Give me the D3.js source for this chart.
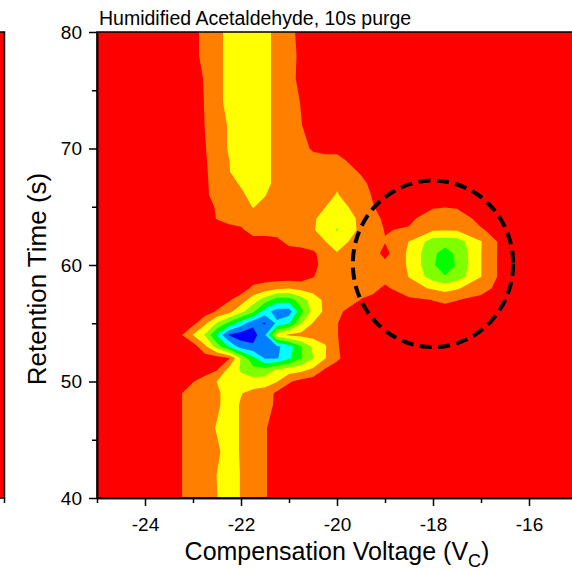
<!DOCTYPE html>
<html>
<head>
<meta charset="utf-8">
<script src="https://cdn.jsdelivr.net/npm/d3@7"></script>
<style>
    body { margin: 0; background: #fff; }
    svg { display: block; }
    text { font-family: "Liberation Sans", Arial, sans-serif; fill: #000; }
</style>
</head>
<body>
<div id="chart"></div>
<script>
// grid columns: compensation voltage (V), rows: retention time (s), top to bottom
const voltages = [-25, -24, -23.5, -23.25, -23, -22.75, -22.5, -22.25, -22, -21.75, -21.5, -21.25, -21, -20.75,
    -20.5, -20.25, -20, -19.75, -19.5, -19.25, -19, -18.5, -18, -17.75, -17.5, -17, -16.5, -16, -15];
const times = [80, 78, 76, 74, 72, 70, 69, 68, 67, 66, 65, 64, 63, 62, 61, 60, 59, 58, 57, 56, 55, 54, 53, 52,
    51, 50, 49, 48, 46, 44, 42, 40];

// intensity level (0 = red ... 7 = dark blue)
const intensity = [
    [0, 0, 0, 0, 0, 1, 1, 2, 2, 2, 2, 1, 1, 0, 0, 0, 0, 0, 0, 0, 0, 0, 0, 0, 0, 0, 0, 0, 0],
    [0, 0, 0, 0, 0, 1, 1, 2, 2, 2, 2, 1, 1, 0.2, 0, 0, 0, 0, 0, 0, 0, 0, 0, 0, 0, 0, 0, 0, 0],
    [0, 0, 0, 0, 0, 0.6, 1, 2, 2, 2, 2, 1, 1, 0.1, 0, 0, 0, 0, 0, 0, 0, 0, 0, 0, 0, 0, 0, 0, 0],
    [0, 0, 0, 0, 0, 0.55, 1, 2, 2, 2, 2, 1, 1, 0.45, 0, 0, 0, 0, 0, 0, 0, 0, 0, 0, 0, 0, 0, 0, 0],
    [0, 0, 0, 0, 0, 0.52, 1, 1.6, 2, 2, 2, 1, 1, 0.55, 0, 0, 0, 0, 0, 0, 0, 0, 0, 0, 0, 0, 0, 0, 0],
    [0, 0, 0, 0, 0, 0.45, 1, 1.6, 2, 2, 2, 1, 1, 1, 0.3, 0, 0, 0, 0, 0, 0, 0, 0, 0, 0, 0, 0, 0, 0],
    [0, 0, 0, 0, 0, 0.4, 1, 1.48, 2, 2, 2, 1, 1, 1, 1, 1, 1, 0.3, 0, 0, 0, 0, 0, 0, 0, 0, 0, 0, 0],
    [0, 0, 0, 0, 0, 0.35, 1, 1.45, 2, 2, 2, 1, 1, 1, 1, 1, 1, 1, 0.3, 0, 0, 0, 0, 0, 0, 0, 0, 0, 0],
    [0, 0, 0, 0, 0, 0.3, 1, 1, 1.67, 2, 2, 1, 1, 1, 1, 1, 1.3, 1, 1, 0, 0, 0, 0, 0, 0, 0, 0, 0, 0],
    [0, 0, 0, 0, 0, 0.25, 1, 1, 1.2, 2, 1.55, 1, 1, 1, 1, 1, 1.6, 1, 1, 0.4, 0, 0, 0, 0, 0, 0, 0, 0, 0],
    [0, 0, 0, 0, 0, 0, 0.65, 1, 1, 1.55, 1.2, 1, 1, 1, 1, 1.45, 2.2, 1.45, 1, 0.55, 0.1, 0, 0.4, 0.45, 0.4, 0, 0, 0, 0],
    [0, 0, 0, 0, 0, 0, 0.55, 1, 1, 1, 1, 1, 1, 1, 1.3, 2, 2.3, 2, 1.1, 1, 0.2, 0.3, 1, 1.2, 1, 0.2, 0, 0, 0],
    [0, 0, 0, 0, 0, 0, 0, 0, 0.3, 1, 1, 1, 1, 1, 1.4, 2, 2.55, 2, 1.2, 1, 0.45, 0.6, 1.4, 1.45, 1.4, 0.6, 0, 0, 0],
    [0, 0, 0, 0, 0, 0, 0, 0, 0, 0, 0, 0.2, 0.8, 1, 1.1, 1.45, 2.2, 1.45, 1, 1, 0.55, 1.52, 3, 3.1, 3, 1.55, 0, 0, 0],
    [0, 0, 0, 0, 0, 0, 0, 0, 0, 0, 0, 0, 0, 0, 0.3, 1, 1.4, 1.2, 1.1, 0.9, 0.2, 1.7, 3.3, 3.9, 3.3, 1.52, 0, 0, 0],
    [0, 0, 0, 0, 0, 0, 0, 0, 0, 0, 0, 0, 0, 0, 0.1, 1, 1.3, 1.2, 1.1, 0.9, 0.8, 1.6, 3.4, 4, 3.4, 1.52, 0, 0, 0],
    [0, 0, 0, 0, 0, 0, 0, 0, 0, 0, 0, 0, 0, 0, 0.45, 1, 1.2, 1.2, 1.1, 1, 0.9, 1.52, 3, 3.45, 3, 1.52, 0, 0, 0],
    [0, 0, 0, 0, 0, 0, 0, 0, 0, 0.7, 1, 1.3, 1.45, 1.2, 1.1, 1, 1, 0.9, 0.9, 0.8, 0.3, 1.2, 1.6, 1.9, 1.6, 0.9, 0, 0, 0],
    [0, 0, 0, 0, 0, 0, 0, 0.4, 1, 2, 3, 4, 4, 3, 2, 1.3, 1.1, 1, 0.45, 0.2, 0, 0.3, 0.52, 0.6, 0.52, 0.2, 0, 0, 0],
    [0, 0, 0, 0, 0, 0, 0.6, 1.2, 2.2, 3.3, 5, 6, 6, 3.8, 2.2, 1.3, 0.8, 0.2, 0, 0, 0, 0, 0.2, 0.3, 0.2, 0, 0, 0, 0],
    [0, 0, 0, 0, 0.2, 1.3, 2.6, 3.8, 5, 6.2, 6.6, 5.3, 4.6, 2.6, 1.45, 1.1, 0.55, 0, 0, 0, 0, 0, 0, 0, 0, 0, 0, 0, 0],
    [0, 0, 0, 0.4, 1.55, 2.6, 4.6, 6.6, 7, 7, 5.6, 2, 1.3, 1.2, 1.1, 1, 0.55, 0, 0, 0, 0, 0, 0, 0, 0, 0, 0, 0, 0],
    [0, 0, 0, 0, 0, 1.3, 3, 4.6, 6, 6.3, 6, 5.7, 5, 3.55, 2.3, 1.6, 0.6, 0, 0, 0, 0, 0, 0, 0, 0, 0, 0, 0, 0],
    [0, 0, 0, 0, 0, 0, 0, 0.4, 2.6, 4.2, 5.6, 5.6, 4.7, 3.55, 2.55, 1.55, 0.7, 0, 0, 0, 0, 0, 0, 0, 0, 0, 0, 0, 0],
    [0, 0, 0, 0, 0, 0, 0.45, 1.8, 2.6, 3.2, 3.1, 2.4, 2, 1.8, 1.3, 0.4, 0, 0, 0, 0, 0, 0, 0, 0, 0, 0, 0, 0, 0],
    [0, 0, 0, 0, 0.45, 1, 1.52, 2, 2.2, 2.1, 2, 1.55, 0.6, 0.2, 0, 0, 0, 0, 0, 0, 0, 0, 0, 0, 0, 0, 0, 0, 0],
    [0, 0, 0, 0.45, 1, 1, 1.3, 2, 1.55, 1.2, 1, 0.3, 0, 0, 0, 0, 0, 0, 0, 0, 0, 0, 0, 0, 0, 0, 0, 0, 0],
    [0, 0, 0, 0.45, 1, 1, 1.3, 2, 1.4, 1, 1, 0.25, 0, 0, 0, 0, 0, 0, 0, 0, 0, 0, 0, 0, 0, 0, 0, 0, 0],
    [0, 0, 0, 0.45, 1, 1, 1.6, 2, 1.4, 1, 0.6, 0, 0, 0, 0, 0, 0, 0, 0, 0, 0, 0, 0, 0, 0, 0, 0, 0, 0],
    [0, 0, 0, 0.45, 1, 1, 1.3, 2, 1.4, 1, 0.6, 0, 0, 0, 0, 0, 0, 0, 0, 0, 0, 0, 0, 0, 0, 0, 0, 0, 0],
    [0, 0, 0, 0.45, 1, 1, 1.52, 2, 1.45, 1, 0.6, 0, 0, 0, 0, 0, 0, 0, 0, 0, 0, 0, 0, 0, 0, 0, 0, 0, 0],
    [0, 0, 0, 0.45, 1, 1, 1.48, 2, 1.45, 1, 0.6, 0, 0, 0, 0, 0, 0, 0, 0, 0, 0, 0, 0, 0, 0, 0, 0, 0, 0]
];

const levels = [0.5, 1.5, 2.5, 3.5, 4.5, 5.5, 6.5];
const baseColor = '#ff0000';
const levelColors = ['#ff8000', '#ffff00', '#80ff00', '#00ff00', '#00ffff', '#0080ff', '#0000ff'];

const xMajor = [-24, -22, -20, -18, -16];
const xMinor = [-25, -23, -21, -19, -17, -15];
const yMajor = [40, 50, 60, 70, 80];
const yMinor = [45, 55, 65, 75];

// dashed ring around the -18 V feature
const ringCenter = [-18, 60.1];
const ringRadius = [1.67, 7.15];

const svgWidth = 572;
const svgHeight = 570;

const svg = d3.select('#chart')
    .append('svg')
    .attr('width', svgWidth)
    .attr('height', svgHeight);

const x = d3.scaleLinear().domain([-25, -15]).range([97, 577]);
const y = d3.scaleLinear().domain([40, 80]).range([498, 32]);

// grid index -> data value (samples sit at index + 0.5 in contour space)
const colToV = d3.scaleLinear().domain(voltages.map((d, i) => i + 0.5)).range(voltages);
const rowToT = d3.scaleLinear().domain(times.map((d, i) => i + 0.5)).range(times);

const toScreen = d3.geoTransform({
    point(px, py) {
        this.stream.point(x(colToV(px)), y(rowToT(py)));
    }
});
const path = d3.geoPath(toScreen);

svg.append('clipPath').attr('id', 'plot-clip')
    .append('rect')
    .attr('x', x(-25)).attr('y', y(80))
    .attr('width', x(-15) - x(-25)).attr('height', y(40) - y(80));

// piece of the neighbouring panel on the left edge
svg.append('rect')
    .attr('x', -5).attr('y', y(80))
    .attr('width', 9.5).attr('height', y(40) - y(80))
    .attr('fill', baseColor)
    .attr('stroke', '#000')
    .attr('stroke-width', 1.5);
svg.append('line')
    .attr('x1', 4.5).attr('x2', 4.5)
    .attr('y1', y(40)).attr('y2', y(40) + 5)
    .attr('stroke', '#000').attr('stroke-width', 1.5);

const plot = svg.append('g').attr('clip-path', 'url(#plot-clip)');

plot.append('rect')
    .attr('x', x(-25)).attr('y', y(80))
    .attr('width', x(-15) - x(-25)).attr('height', y(40) - y(80))
    .attr('fill', baseColor);

const bands = d3.contours()
    .size([voltages.length, times.length])
    .thresholds(levels)(intensity.flat());

plot.selectAll('path.band')
    .data(bands)
    .join('path')
    .attr('class', 'band')
    .attr('d', path)
    .attr('fill', (d, i) => levelColors[i]);

plot.append('ellipse')
    .attr('cx', x(ringCenter[0]))
    .attr('cy', y(ringCenter[1]))
    .attr('rx', x(ringCenter[0] + ringRadius[0]) - x(ringCenter[0]))
    .attr('ry', y(ringCenter[1] - ringRadius[1]) - y(ringCenter[1]))
    .attr('fill', 'none')
    .attr('stroke', '#000')
    .attr('stroke-width', 4)
    .attr('stroke-dasharray', '12,6.5');

// frame
svg.append('rect')
    .attr('x', x(-25)).attr('y', y(80))
    .attr('width', x(-15) - x(-25)).attr('height', y(40) - y(80))
    .attr('fill', 'none')
    .attr('stroke', '#000')
    .attr('stroke-width', 1.5);

// axes
const gx = svg.append('g').attr('transform', `translate(0,${y(40)})`);
gx.call(d3.axisBottom(x).tickValues(xMajor).tickSize(8).tickSizeOuter(0).tickPadding(12)
    .tickFormat(d => String(d)));
gx.append('g').call(d3.axisBottom(x).tickValues(xMinor).tickSize(5).tickSizeOuter(0).tickFormat(''));

const gy = svg.append('g').attr('transform', `translate(${x(-25)},0)`);
gy.call(d3.axisLeft(y).tickValues(yMajor).tickSize(8).tickSizeOuter(0).tickPadding(7)
    .tickFormat(d => String(d)));
gy.append('g').call(d3.axisLeft(y).tickValues(yMinor).tickSize(5).tickSizeOuter(0).tickFormat(''));

svg.selectAll('.tick line, .domain').attr('stroke', '#000').attr('stroke-width', 1.5);
svg.selectAll('.tick text')
    .style('font-family', '"Liberation Sans", Arial, sans-serif')
    .style('font-size', '19px')
    .attr('fill', '#000');

// titles
svg.append('text')
    .attr('x', 99)
    .attr('y', 25)
    .style('font-size', '19.5px')
    .text('Humidified Acetaldehyde, 10s purge');

const xTitle = svg.append('text')
    .attr('x', (x(-25) + x(-15)) / 2)
    .attr('y', 560)
    .attr('text-anchor', 'middle')
    .style('font-size', '25px');
xTitle.append('tspan').text('Compensation Voltage (V');
xTitle.append('tspan').attr('dy', 7).style('font-size', '18px').text('C');
xTitle.append('tspan').attr('dy', -7).text(')');

svg.append('text')
    .attr('transform', 'translate(46,279) rotate(-90)')
    .attr('text-anchor', 'middle')
    .style('font-size', '26px')
    .text('Retention Time (s)');
</script>
</body>
</html>
